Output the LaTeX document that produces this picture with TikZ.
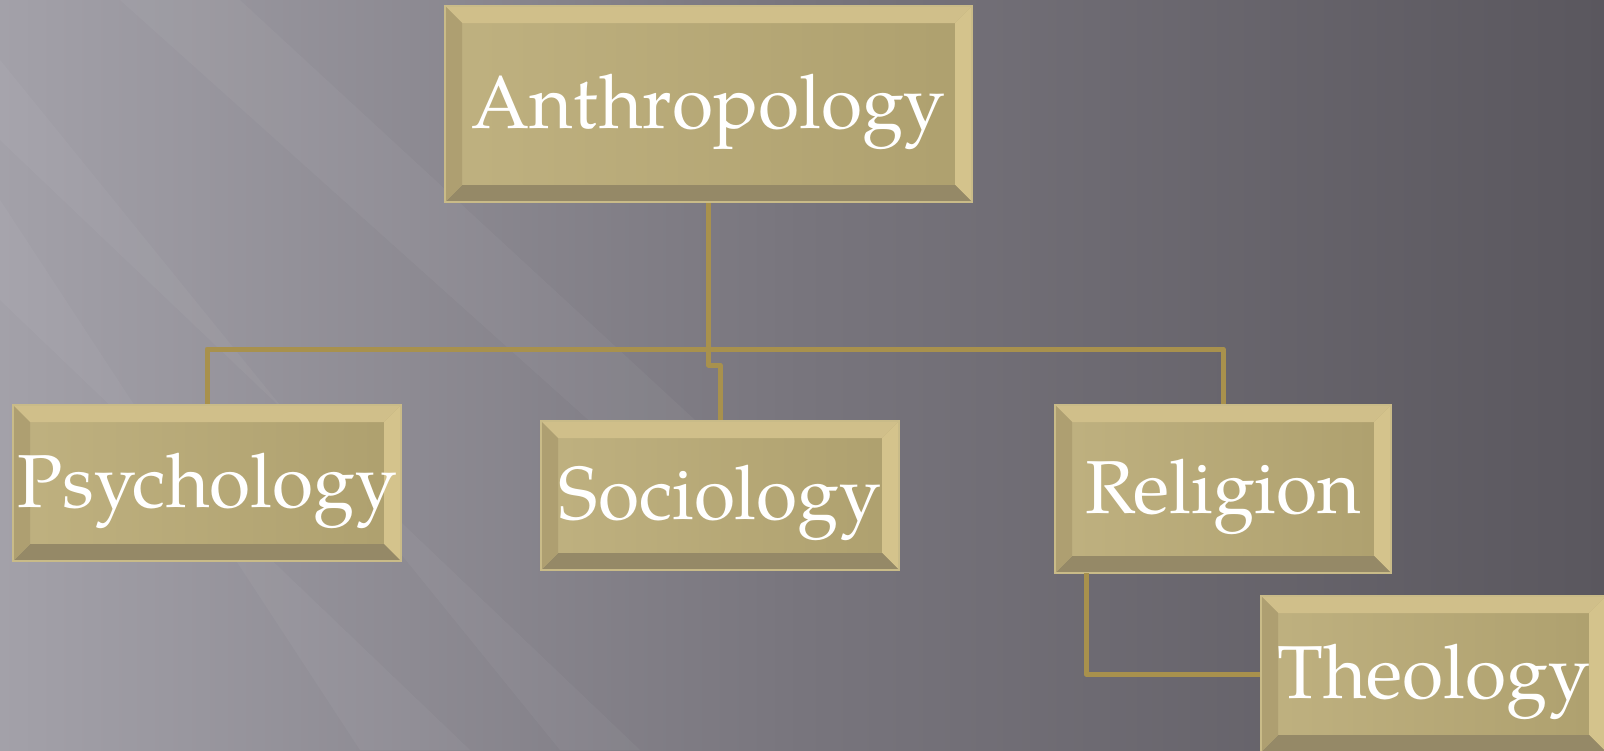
\documentclass[tikz,border=0pt]{standalone}
\usepackage{fontspec}
\setmainfont{TeX Gyre Pagella}
\usetikzlibrary{calc}
\definecolor{bgL}{HTML}{A3A1A9}
\definecolor{bgM}{HTML}{78757D}
\definecolor{bgR}{HTML}{5A575E}
\definecolor{faceL}{HTML}{BFB180}
\definecolor{faceR}{HTML}{AEA06E}
\definecolor{bevT}{HTML}{D0BF8A}
\definecolor{bevR}{HTML}{D4C38C}
\definecolor{bevB}{HTML}{958967}
\definecolor{bevL}{HTML}{AE9F71}
\definecolor{edge}{HTML}{C9BB88}
\definecolor{conn}{HTML}{A8914D}
\def\bvw{17pt}
\tikzset{
  conn/.style={draw=conn, line width=5pt, line join=round},
  bevbox/.style={draw=edge, line width=2.5pt, left color=faceL, right color=faceR,
    text=white, inner sep=0pt, font=\fontsize{75}{90}\selectfont,
    text height=58pt, text depth=10pt,
    path picture={
      \fill[bevT] (path picture bounding box.north west) -- (path picture bounding box.north east)
        -- ([xshift=-\bvw,yshift=-\bvw]path picture bounding box.north east)
        -- ([xshift=\bvw,yshift=-\bvw]path picture bounding box.north west) -- cycle;
      \fill[bevR] (path picture bounding box.north east) -- (path picture bounding box.south east)
        -- ([xshift=-\bvw,yshift=\bvw]path picture bounding box.south east)
        -- ([xshift=-\bvw,yshift=-\bvw]path picture bounding box.north east) -- cycle;
      \fill[bevB] (path picture bounding box.south east) -- (path picture bounding box.south west)
        -- ([xshift=\bvw,yshift=\bvw]path picture bounding box.south west)
        -- ([xshift=-\bvw,yshift=\bvw]path picture bounding box.south east) -- cycle;
      \fill[bevL] (path picture bounding box.south west) -- (path picture bounding box.north west)
        -- ([xshift=\bvw,yshift=-\bvw]path picture bounding box.north west)
        -- ([xshift=\bvw,yshift=\bvw]path picture bounding box.south west) -- cycle;
    }},
  streak/.style={fill=white, opacity=0.04}
}
\begin{document}
\begin{tikzpicture}[x=1pt,y=-1pt]
\useasboundingbox (0,0) rectangle (1604,750);
% background
\shade[left color=bgL, right color=bgR, middle color=bgM] (0,0) rectangle (1604,750);
\fill[streak] (0,200) -- (0,300) -- (470,750) -- (360,750) -- cycle;
\fill[streak] (0,60) -- (0,140) -- (640,750) -- (560,750) -- cycle;
\fill[streak] (120,0) -- (240,0) -- (760,480) -- (700,520) -- cycle;
% connectors
\coordinate (hub) at (710,349);
\coordinate (jog) at (710,365);
\coordinate (rt) at (1086,573);
% nodes
\node[bevbox, minimum width=527pt, minimum height=196pt] (A) at (708.5,104) {Anthropology};
\node[bevbox, minimum width=388pt, minimum height=156pt] (P) at (207,483) {Psychology};
\node[bevbox, minimum width=358pt, minimum height=149pt] (S) at (720,495.5) {Sociology};
\node[bevbox, minimum width=336pt, minimum height=168pt] (R) at (1223,489) {Religion};
\node[bevbox, minimum width=345pt, minimum height=156pt] (T) at (1433.5,674) {Theology};
% connectors
\draw[conn] (P.north) -- (P.north |- hub) -- (R.north |- hub) -- (R.north);
\draw[conn] (A.south) -- (A.south |- jog) -- (S.north |- jog) -- (S.north);
\draw[conn] (rt) |- (T.west);
\end{tikzpicture}
\end{document}
